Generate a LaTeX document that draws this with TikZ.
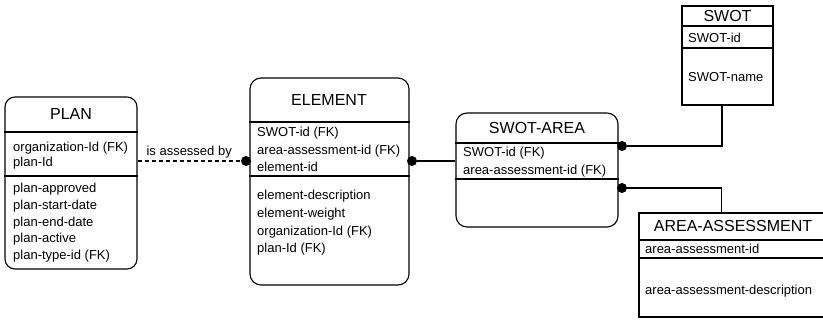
\documentclass[tikz,border=0pt]{standalone}
\usepackage{fontspec}
\setmainfont{Liberation Sans}
\usetikzlibrary{calc}

\begin{document}
\begin{tikzpicture}[
  x=1pt, y=-1pt,
  entity/.style={draw, line width=1.1pt, rounded corners=11pt, inner sep=0pt},
  plainentity/.style={draw, line width=1.1pt, inner sep=0pt},
  title/.style={font=\fontsize{16}{18}\selectfont, inner sep=0pt},
  attrs/.style={font=\fontsize{13}{#1}\selectfont, align=left, anchor=north west, inner sep=0pt},
  attrs/.default=17,
  divider/.style={line width=1.1pt},
  link/.style={line width=1.1pt},
  dot/.style={circle, fill, inner sep=0pt, minimum size=10pt}
]
  \clip (0,0) rectangle (823,323);

  % PLAN
  \node[entity, rounded corners=10pt, minimum width=132pt, minimum height=172pt] (plan) at (71,183) {};
  \draw[divider] (plan.west |- 0,132) -- (plan.east |- 0,132);
  \draw[divider] (plan.west |- 0,176) -- (plan.east |- 0,176);
  \node[title] (plantitle) at (71,114) {PLAN};
  \node[attrs=15] (plankeys) at (13,142) {organization-Id (FK)\\plan-Id};
  \node[attrs=16.75] (planattrs) at (13,183) {plan-approved\\plan-start-date\\plan-end-date\\plan-active\\plan-type-id (FK)};

  % ELEMENT
  \node[entity, minimum width=159pt, minimum height=207pt] (element) at (329.5,181.5) {};
  \draw[divider] (element.west |- 0,122) -- (element.east |- 0,122);
  \draw[divider] (element.west |- 0,176) -- (element.east |- 0,176);
  \node[title] (elementtitle) at (329,100) {ELEMENT};
  \node[attrs=17.5] (elementkeys) at (257,127) {SWOT-id (FK)\\area-assessment-id (FK)\\element-id};
  \node[attrs=17.7] (elementattrs) at (257,190) {element-description\\element-weight\\organization-Id (FK)\\plan-Id (FK)};

  % SWOT-AREA
  \node[entity, minimum width=162pt, minimum height=114pt] (swotarea) at (537,170) {};
  \draw[divider] (swotarea.west |- 0,143) -- (swotarea.east |- 0,143);
  \draw[divider] (swotarea.west |- 0,179) -- (swotarea.east |- 0,179);
  \node[title] (swotareatitle) at (537,128) {SWOT-AREA};
  \node[attrs=18] (swotareakeys) at (463,147) {SWOT-id (FK)\\area-assessment-id (FK)};

  % SWOT
  \node[plainentity, minimum width=91pt, minimum height=99pt] (swot) at (727.5,55.5) {};
  \draw[divider] (swot.west |- 0,26) -- (swot.east |- 0,26);
  \draw[divider] (swot.west |- 0,48) -- (swot.east |- 0,48);
  \node[title] (swottitle) at (727.5,16) {SWOT};
  \node[attrs] (swotkeys) at (688,33) {SWOT-id};
  \node[attrs] (swotattrs) at (688,72) {SWOT-name};

  % AREA-ASSESSMENT
  \node[plainentity, minimum width=191pt, minimum height=104pt] (areaassess) at (734.5,265) {};
  \draw[divider] (areaassess.west |- 0,240) -- (areaassess.east |- 0,240);
  \draw[divider] (areaassess.west |- 0,258) -- (areaassess.east |- 0,258);
  \node[title] (areaassesstitle) at (733,226) {AREA-ASSESSMENT};
  \node[attrs] (areaassesskeys) at (645,243.5) {area-assessment-id};
  \node[attrs] (areaassessattrs) at (645,285) {area-assessment-description};

  % Relationship ends
  \node[dot] (elementdotl) at (246,161) {};
  \node[dot] (elementdotr) at (412,161) {};
  \node[dot] (swotareadot1) at (622,146) {};
  \node[dot] (swotareadot2) at (622,188) {};

  % Connectors
  \draw[link, dash pattern=on 4pt off 3pt] (plan.east |- elementdotl) -- node[above=2pt, font=\fontsize{13}{15}\selectfont, inner sep=0pt] (assessedby) {is assessed by} (elementdotl);
  \draw[link] (elementdotr) -- (swotarea.west |- elementdotr);
  \draw[link] (swotareadot1) -| ([xshift=-5.5pt]swot.south);
  \draw[link] (swotareadot2) -| ([xshift=83pt]areaassess.north west);
\end{tikzpicture}
\end{document}
